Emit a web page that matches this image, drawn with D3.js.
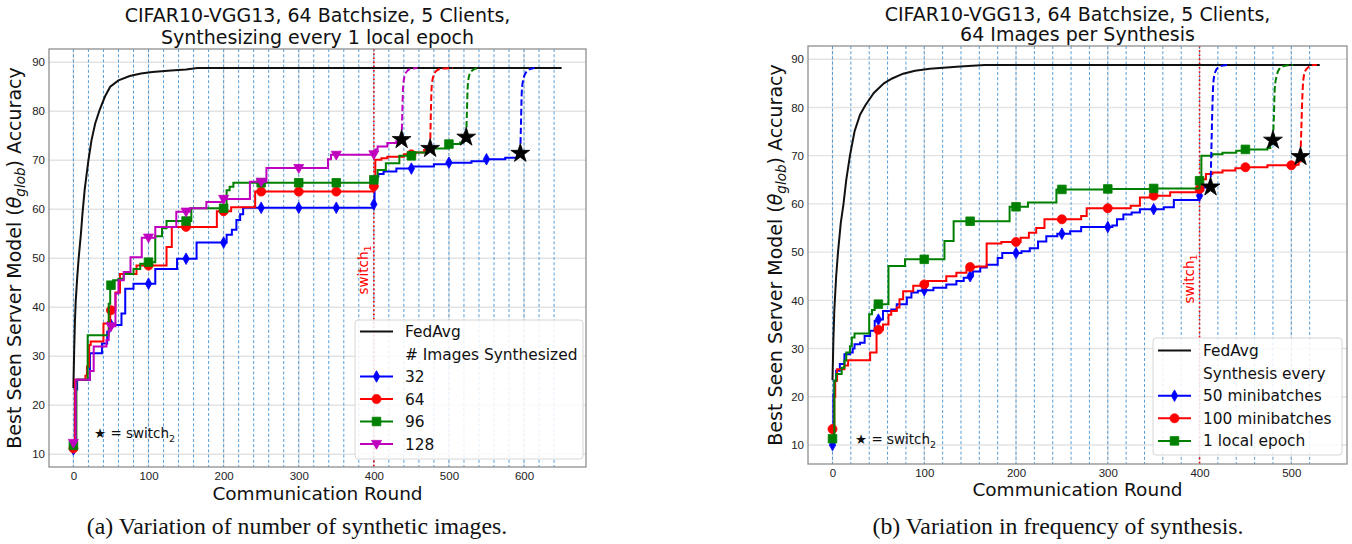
<!DOCTYPE html>
<html lang="en">
<head>
<meta charset="UTF-8">
<title>FedAvg vs synthesis</title>
<style>
  body { margin: 0; background: #fff; }
  svg { display: block; font-family: "DejaVu Sans", sans-serif; }
  .tick text { font-size: 11.5px; fill: #222; }
  .tick line { stroke: none; }
  .domain { stroke: none; }
</style>
</head>
<body>
<script src="https://cdnjs.cloudflare.com/ajax/libs/d3/7.8.5/d3.min.js"></script>
<svg id="chart" width="1352" height="544"></svg>
<script>
// ---------- shared ----------
var yTicks = [10, 20, 30, 40, 50, 60, 70, 80, 90];
var switch1Round = 400;

// ---------- panel (a): number of synthetic images ----------
var xTicksA = [0, 100, 200, 300, 400, 500, 600];
var synthRoundsA = [0, 20, 40, 60, 80, 100, 120, 140, 160, 180, 200, 220, 240, 260, 280, 300, 320,
  340, 360, 380, 400, 420, 440, 460, 480, 500, 520, 540, 560, 580, 600, 620, 640];
var markRoundsA = [0, 50, 100, 150, 200, 250, 300, 350, 400, 450, 500, 550, 600];

var fedavgA = [[0, 23.5], [1, 31], [2, 37], [3, 41], [5, 46], [7, 50], [10, 55], [12, 59], [15, 64],
  [20, 70], [24, 74], [29, 77.5], [35, 80.3], [42, 83], [49, 85], [60, 86.3], [75, 87.2], [90, 87.7],
  [105, 88], [130, 88.3], [150, 88.5], [165, 88.8], [650, 88.8]];

// step series: [round, best accuracy so far]
var img32 = [[0, 11.0], [2, 18], [3, 23.2], [5, 25.2], [22, 30.6], [38, 32.6], [45, 35], [48, 36.4],
  [64, 38.7], [69, 43.8], [80, 44.8], [109, 47.8], [138, 49.9], [164, 53.2], [204, 54.8], [211, 55.8],
  [217, 57.8], [222, 59], [226, 60.3], [400, 61.0], [401, 66.7], [406, 67.2], [413, 67.7], [430, 68.3],
  [451, 68.7], [480, 69.2], [500, 69.5], [530, 69.8], [550, 70.2], [575, 70.5], [591, 70.9], [595, 71.4]];
var img32Tail = [[595, 71.4], [596, 78], [597, 84], [599, 86.5], [603, 88], [608, 88.6], [614, 88.8]];

var img64 = [[0, 11.2], [2, 25.2], [16, 26], [18, 27.9], [21, 32.3], [23, 33], [40, 36.7], [46, 37],
  [49, 39.4], [56, 43], [62, 46.8], [84, 48.5], [124, 52.3], [131, 56.4], [191, 59.6], [210, 60.4],
  [242, 63.6], [400, 64.7], [402, 70.1], [410, 70.4], [418, 70.7], [440, 71.2], [455, 71.6],
  [467, 72.1], [475, 72.4]];
var img64Tail = [[475, 72.4], [476, 80], [477, 85], [479, 87], [483, 88.2], [490, 88.7], [505, 88.8]];

var img96 = [[0, 11.8], [4, 25.2], [19, 34.3], [47, 40.7], [49, 44.5], [53, 45.5], [60, 45.8],
  [67, 46.8], [80, 47.8], [89, 48.9], [100, 49.2], [109, 54.5], [118, 56.1], [124, 57.6], [157, 60.2],
  [204, 63.9], [208, 64.6], [213, 65.4], [400, 66.0], [405, 68], [416, 69.4], [434, 70.9], [451, 71.6],
  [470, 72], [480, 72.4], [500, 73.3], [515, 73.6], [519, 74], [523, 74.7]];
var img96Tail = [[523, 74.7], [524, 80], [525, 85], [527, 87.3], [531, 88.3], [538, 88.8]];

var img128 = [[0, 12.3], [3, 25.2], [22, 27], [27, 32], [44, 33.3], [47, 35.3], [50, 36.1], [56, 42.8],
  [60, 45.5], [67, 47.2], [76, 50.2], [91, 54.2], [109, 56.4], [137, 59.5], [155, 60.2], [177, 61.5],
  [200, 62.1], [235, 65.6], [257, 68.4], [339, 70.2], [343, 71.1], [400, 71.2], [402, 72.2], [405, 72.8],
  [418, 73.5], [430, 73.9], [437, 74.2]];
var img128Tail = [[437, 74.2], [438, 80], [439, 85], [441, 87.2], [445, 88.3], [450, 88.7], [458, 88.8]];

// ---------- panel (b): frequency of synthesis ----------
var xTicksB = [0, 100, 200, 300, 400, 500];
var synthRoundsB = [0, 20, 40, 60, 80, 100, 120, 140, 160, 180, 200, 220, 240, 260, 280, 300, 320,
  340, 360, 380, 400, 420, 440, 460, 480, 500, 520];
var markRoundsB = [0, 50, 100, 150, 200, 250, 300, 350, 400, 450, 500];

var fedavgB = [[0, 23.5], [1, 32], [2, 38], [4, 45], [6, 50], [9, 56], [12, 60], [15, 65], [19, 70],
  [24, 75], [30, 78.5], [36, 80.5], [45, 83], [56, 85], [65, 86], [77, 87], [90, 87.6], [106, 88],
  [139, 88.5], [166, 88.8], [531, 88.8]];

var every50 = [[0, 10], [1, 20.5], [2, 23.3], [4, 25.4], [8, 26.8], [13, 28.8], [19, 29.2], [22, 30],
  [24, 30.9], [30, 31.2], [35, 32.6], [41, 33.7], [46, 35.7], [50, 36], [55, 37.8], [64, 38.1],
  [70, 39.2], [81, 40.6], [86, 41.6], [93, 42], [100, 42.1], [110, 42.6], [124, 43.3], [135, 44],
  [143, 44.7], [150, 45], [153, 46], [161, 46.8], [168, 47.4], [180, 48.8], [185, 49.8], [206, 50.2],
  [215, 50.8], [224, 52.2], [233, 53.3], [245, 53.8], [259, 54.3], [271, 55.2], [305, 55.5], [310, 56.8],
  [317, 57.8], [326, 58.2], [335, 58.9], [361, 59.3], [372, 60.8], [399, 61.4], [400, 61.7],
  [401, 62.8], [404, 63.4], [412, 63.5]];
var every50Tail = [[412, 63.5], [413, 72], [414, 80], [415, 85], [417, 87.3], [421, 88.4], [426, 88.7], [431, 88.8]];

var every100 = [[0, 13.3], [2, 20], [3, 23.3], [5, 25.7], [13, 26.5], [17, 27.6], [41, 29.2], [48, 33.5],
  [50, 33.9], [55, 35], [61, 37], [64, 37.8], [70, 38.5], [73, 40.2], [77, 41.9], [88, 43], [100, 43.3],
  [104, 44], [124, 45], [135, 45.7], [146, 46.4], [150, 46.9], [157, 47], [168, 51.8], [184, 52.1],
  [205, 53], [214, 54], [222, 55], [231, 56.8], [271, 57.5], [277, 59.1], [325, 59.6], [335, 61.3],
  [350, 61.7], [368, 62.4], [400, 63.1], [402, 65.1], [407, 66.2], [414, 66.5], [425, 66.9],
  [439, 67.4], [450, 67.6], [474, 68], [505, 68.1], [508, 68.8], [510, 69.8]];
var every100Tail = [[510, 69.8], [511, 76], [512, 82], [513, 85.5], [515, 87.5], [519, 88.4], [524, 88.8], [528, 88.8]];

var everyEpoch = [[0, 11.3], [2, 23.3], [4, 24.7], [10, 26], [13, 27.5], [15, 29.2], [19, 30.5],
  [21, 32.3], [24, 33.1], [40, 37.1], [43, 38], [46, 39], [50, 39.2], [61, 47.1], [79, 48.5],
  [122, 52.3], [132, 56.4], [193, 59.4], [213, 60.3], [244, 63], [300, 63.1], [350, 63.2], [400, 64.8],
  [402, 70], [414, 70.3], [425, 70.6], [440, 71], [450, 71.3], [474, 71.6], [477, 72.5], [480, 73.2]];
var everyEpochTail = [[480, 73.2], [481, 78], [482, 84], [484, 86.5], [487, 88], [492, 88.6], [502, 88.8]];

// ---------- drawing ----------
var svg = d3.select('#chart');

function valueAt(pts, r) {
  var v = pts[0][1];
  for (var i = 0; i < pts.length; i++) {
    if (pts[i][0] <= r) v = pts[i][1]; else break;
  }
  return v;
}

function markerPath(kind) {
  if (kind === 'diamond') return 'M0,-5.8L3.2,0L0,5.8L-3.2,0Z';
  if (kind === 'circle') return d3.symbol(d3.symbolCircle, 64)();
  if (kind === 'square') return 'M-4.3,-4.3H4.3V4.3H-4.3Z';
  if (kind === 'tridown') return 'M-5,-3.6L5,-3.6L0,5.2Z';
}

function drawPanel(p) {
  var x = d3.scaleLinear().domain(p.xDom).range([p.x0, p.x1]);
  var y = d3.scaleLinear().domain(p.yDom).range([p.y1, p.y0]);
  var g = svg.append('g');

  // grid
  g.selectAll('.hgrid').data(yTicks).enter().append('line')
    .attr('x1', p.x0).attr('x2', p.x1)
    .attr('y1', function(d) { return y(d); }).attr('y2', function(d) { return y(d); })
    .attr('stroke', '#e3e3e3').attr('stroke-width', 1.4);
  g.selectAll('.vgrid').data(p.xTicks).enter().append('line')
    .attr('y1', p.y0).attr('y2', p.y1)
    .attr('x1', function(d) { return x(d); }).attr('x2', function(d) { return x(d); })
    .attr('stroke', '#e3e3e3').attr('stroke-width', 1.4);

  // synthesis rounds
  g.selectAll('.synth').data(p.synth).enter().append('line')
    .attr('y1', p.y0).attr('y2', p.y1)
    .attr('x1', function(d) { return x(d); }).attr('x2', function(d) { return x(d); })
    .attr('stroke', '#3d8fd1').attr('stroke-width', 1).attr('stroke-dasharray', '3,2.2')
    .attr('opacity', 0.85);

  // axes
  g.append('g').attr('transform', 'translate(0,' + p.y1 + ')')
    .call(d3.axisBottom(x).tickValues(p.xTicks).tickSize(0).tickPadding(4.5).tickFormat(d3.format('d')));
  g.append('g').attr('transform', 'translate(' + p.x0 + ',0)')
    .call(d3.axisLeft(y).tickValues(yTicks).tickSize(0).tickPadding(4).tickFormat(d3.format('d')));

  // switch_1 line and label
  g.append('line')
    .attr('x1', x(switch1Round)).attr('x2', x(switch1Round))
    .attr('y1', p.y0).attr('y2', p.y1)
    .attr('stroke', '#ff0000').attr('stroke-width', 1.6).attr('stroke-dasharray', '1.6,2.6');
  var st = g.append('text')
    .attr('transform', 'translate(' + (x(switch1Round) - 6) + ',' + p.switchY + ') rotate(-90)')
    .attr('text-anchor', 'middle').attr('fill', '#ff0000').attr('font-size', 13.5);
  st.append('tspan').text('switch');
  st.append('tspan').attr('font-size', 9.5).attr('dy', 3).text('1');

  var solid = d3.line().curve(d3.curveStepAfter)
    .x(function(d) { return x(d[0]); }).y(function(d) { return y(d[1]); });
  var smooth = d3.line().curve(d3.curveMonotoneX)
    .x(function(d) { return x(d[0]); }).y(function(d) { return y(d[1]); });
  var straight = d3.line()
    .x(function(d) { return x(d[0]); }).y(function(d) { return y(d[1]); });

  // FedAvg
  g.append('path').datum(p.fedavg).attr('d', straight)
    .attr('fill', 'none').attr('stroke', '#111').attr('stroke-width', 2);

  // synthesis series
  p.series.forEach(function(s) {
    g.append('path').datum(s.pts).attr('d', solid)
      .attr('fill', 'none').attr('stroke', s.color).attr('stroke-width', 2);
    var last = s.pts[s.pts.length - 1][0];
    var marks = p.marks.filter(function(r) { return r < last; });
    g.selectAll(null).data(marks).enter().append('path')
      .attr('d', markerPath(s.marker))
      .attr('transform', function(r) { return 'translate(' + x(r) + ',' + y(valueAt(s.pts, r)) + ')'; })
      .attr('fill', s.color).attr('stroke', s.color).attr('stroke-width', 0.8);
  });
  p.series.forEach(function(s) {
    g.append('path').datum(s.tail).attr('d', smooth)
      .attr('fill', 'none').attr('stroke', s.color).attr('stroke-width', 2)
      .attr('stroke-dasharray', '6.5,3');
  });
  // switch_2 stars
  p.series.forEach(function(s) {
    var end = s.pts[s.pts.length - 1];
    g.append('path').attr('d', d3.symbol(d3.symbolStar, 110)())
      .attr('transform', 'translate(' + x(end[0]) + ',' + y(end[1]) + ')')
      .attr('fill', '#000').attr('stroke', '#000').attr('stroke-width', 0.8);
  });

  // frame
  g.append('rect').attr('x', p.x0).attr('y', p.y0)
    .attr('width', p.x1 - p.x0).attr('height', p.y1 - p.y0)
    .attr('fill', 'none').attr('stroke', '#8f8f8f').attr('stroke-width', 1.3);

  // star note
  var sn = g.append('text').attr('x', p.noteX).attr('y', p.noteY)
    .attr('font-size', 13.5).attr('fill', '#111');
  sn.append('tspan').text('\u2605 = switch');
  sn.append('tspan').attr('font-size', 9.5).attr('dy', 4).text('2');

  // legend
  var L = p.legend;
  g.append('rect').attr('x', L.x).attr('y', L.y).attr('width', L.w).attr('height', L.h)
    .attr('rx', 3).attr('fill', '#fff').attr('fill-opacity', 0.85)
    .attr('stroke', '#d6d6d6').attr('stroke-width', 1);
  var rows = [{label: 'FedAvg', color: '#111'}, {label: p.legendHead}].concat(p.series);
  rows.forEach(function(r, i) {
    var ry = L.y + L.top + i * L.step;
    if (r.color) {
      g.append('line').attr('x1', L.x + 5).attr('x2', L.x + 38).attr('y1', ry).attr('y2', ry)
        .attr('stroke', r.color).attr('stroke-width', 2);
    }
    if (r.marker) {
      g.append('path').attr('d', markerPath(r.marker))
        .attr('transform', 'translate(' + (L.x + 21.5) + ',' + ry + ')')
        .attr('fill', r.color).attr('stroke', r.color).attr('stroke-width', 0.8);
    }
    g.append('text').attr('x', L.x + 50).attr('y', ry + 5.5)
      .attr('font-size', 15.4).attr('fill', '#111').text(r.label);
  });

  // titles and labels
  var cx = (p.x0 + p.x1) / 2;
  p.title.forEach(function(t, i) {
    g.append('text').attr('x', cx).attr('y', p.titleY[i]).attr('text-anchor', 'middle')
      .attr('font-size', 19).attr('fill', '#111').text(t);
  });
  g.append('text').attr('x', cx).attr('y', p.xlabY).attr('text-anchor', 'middle')
    .attr('font-size', 18.5).attr('fill', '#111').text('Communication Round');
  var yl = g.append('text')
    .attr('transform', 'translate(' + p.ylabX + ',' + ((p.y0 + p.y1) / 2) + ') rotate(-90)')
    .attr('text-anchor', 'middle').attr('font-size', 19).attr('fill', '#111');
  yl.append('tspan').text('Best Seen Server Model (');
  yl.append('tspan').attr('font-style', 'italic').text('\u03b8');
  yl.append('tspan').attr('font-style', 'italic').attr('font-size', 13.5).attr('dy', 4).text('glob');
  yl.append('tspan').attr('dy', -4).text(') Accuracy');

  svg.append('text').attr('x', p.capX).attr('y', 534).attr('text-anchor', 'middle')
    .attr('font-family', '"Liberation Serif", "Times New Roman", serif')
    .attr('font-size', 23.8).attr('fill', '#111').text(p.caption);
}

drawPanel({
  x0: 49, x1: 586, y0: 49, y1: 467, xDom: [-32.5, 682.5], yDom: [7.4, 92.7],
  xTicks: xTicksA, synth: synthRoundsA, marks: markRoundsA, fedavg: fedavgA,
  series: [
    {label: '32', color: '#0000ff', marker: 'diamond', pts: img32, tail: img32Tail},
    {label: '64', color: '#ff0000', marker: 'circle', pts: img64, tail: img64Tail},
    {label: '96', color: '#008000', marker: 'square', pts: img96, tail: img96Tail},
    {label: '128', color: '#bf00bf', marker: 'tridown', pts: img128, tail: img128Tail}
  ],
  legendHead: '# Images Synthesized',
  legend: {x: 355, y: 320, w: 228, h: 139, top: 11.5, step: 22.5},
  switchY: 270, noteX: 94, noteY: 438,
  title: ['CIFAR10-VGG13, 64 Batchsize, 5 Clients,', 'Synthesizing every 1 local epoch'],
  titleY: [22, 44], xlabY: 500, ylabX: 21,
  caption: '(a) Variation of number of synthetic images.', capX: 297
});

drawPanel({
  x0: 808, x1: 1347, y0: 46, y1: 464, xDom: [-26.7, 560.7], yDom: [6.06, 92.74],
  xTicks: xTicksB, synth: synthRoundsB, marks: markRoundsB, fedavg: fedavgB,
  series: [
    {label: '50 minibatches', color: '#0000ff', marker: 'diamond', pts: every50, tail: every50Tail},
    {label: '100 minibatches', color: '#ff0000', marker: 'circle', pts: every100, tail: every100Tail},
    {label: '1 local epoch', color: '#008000', marker: 'square', pts: everyEpoch, tail: everyEpochTail}
  ],
  legendHead: 'Synthesis every',
  legend: {x: 1153, y: 338, w: 189, h: 117, top: 12.5, step: 22.6},
  switchY: 279, noteX: 855, noteY: 444,
  title: ['CIFAR10-VGG13, 64 Batchsize, 5 Clients,', '64 Images per Synthesis'],
  titleY: [21, 41], xlabY: 496, ylabX: 782,
  caption: '(b) Variation in frequency of synthesis.', capX: 1058
});
</script>
</body>
</html>
